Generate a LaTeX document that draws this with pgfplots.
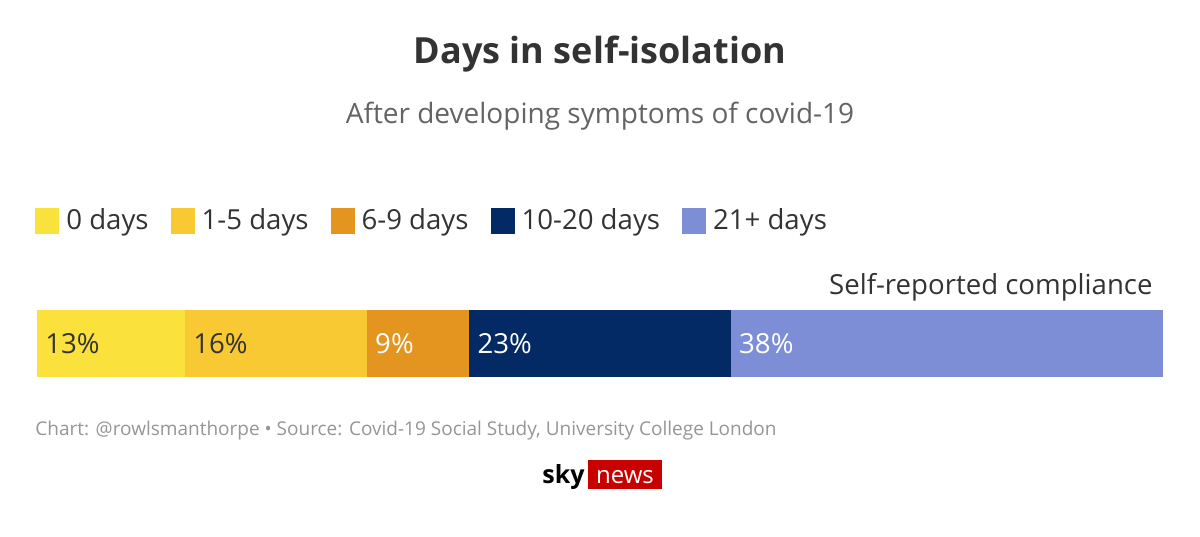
\documentclass[border=0pt]{standalone}
\usepackage{fontspec}
\setmainfont{Open Sans}
\usepackage{pgfplots}
\pgfplotsset{compat=1.18}
\definecolor{c0}{RGB}{250,225,60}
\definecolor{c1}{RGB}{248,201,50}
\definecolor{c2}{RGB}{227,149,32}
\definecolor{c3}{RGB}{3,42,100}
\definecolor{c4}{RGB}{126,142,214}
\definecolor{tdark}{RGB}{51,51,51}
\definecolor{tsub}{RGB}{100,100,100}
\definecolor{tfoot}{RGB}{150,150,150}
\definecolor{skyred}{RGB}{200,0,0}
\tikzset{barlbl/.style={anchor=west, inner sep=0pt, xshift=4pt, font=\fontsize{13.8}{16}\selectfont}}
\begin{document}
\begin{tikzpicture}[x=1pt,y=1pt]
\useasboundingbox (0,0) rectangle (600,268);
\fill[white] (0,0) rectangle (600,268);
\node[font=\fontsize{18}{21}\selectfont\bfseries, text=tdark] at (300,241) {Days in self-isolation};
\node[font=\fontsize{14}{17}\selectfont, text=tsub] at (300,210) {After developing symptoms of covid-19};
\begin{axis}[
  at={(18.5pt,79.5pt)}, anchor=south west, scale only axis,
  width=563pt, height=33.5pt,
  xbar stacked, bar width=33.5pt,
  xmin=0, xmax=99, ymin=-0.5, ymax=0.5,
  hide axis,
  legend columns=5,
  legend style={at={(-0.0018,2.33)}, anchor=west, draw=none, fill=none,
    font=\fontsize{13.8}{16}\selectfont, text=tdark, inner sep=0pt,
    /tikz/every odd column/.append style={column sep=1.5pt},
    /tikz/every even column/.append style={column sep=9pt}},
  legend image code/.code={\path[#1] (0pt,-6.5pt) rectangle (12pt,6.5pt);},
]
\addplot[fill=c0, draw=none] coordinates {(13,0)};
\addplot[fill=c1, draw=none] coordinates {(16,0)};
\addplot[fill=c2, draw=none] coordinates {(9,0)};
\addplot[fill=c3, draw=none] coordinates {(23,0)};
\addplot[fill=c4, draw=none] coordinates {(38,0)};
\legend{0 days, 1-5 days, 6-9 days, 10-20 days, 21+ days}
\coordinate (l1) at (axis cs:0,0);
\coordinate (l2) at (axis cs:13,0);
\coordinate (l3) at (axis cs:29,0);
\coordinate (l4) at (axis cs:38,0);
\coordinate (l5) at (axis cs:61,0);
\end{axis}
\node[barlbl, text=tdark] at (l1) {13\%};
\node[barlbl, text=tdark] at (l2) {16\%};
\node[barlbl, text=white] at (l3) {9\%};
\node[barlbl, text=white] at (l4) {23\%};
\node[barlbl, text=white] at (l5) {38\%};
\node[anchor=base east, inner sep=0pt, font=\fontsize{13.8}{16}\selectfont, text=tdark] at (576.5,120.5) {Self-reported compliance};
\node[anchor=base west, inner sep=0pt, font=\fontsize{9.5}{12}\selectfont, text=tfoot] at (17.5,50) {Chart: @rowlsmanthorpe • Source: Covid-19 Social Study, University College London};
\fill[skyred] (294,23.5) rectangle (331,38);
\node[anchor=base east, inner sep=0pt, font=\fontsize{12.5}{14}\selectfont\bfseries, text=black] at (292.5,26.5) {sky};
\node[anchor=base, inner sep=0pt, font=\fontsize{12}{14}\selectfont, text=white] at (312.5,26.5) {news};
\end{tikzpicture}
\end{document}
